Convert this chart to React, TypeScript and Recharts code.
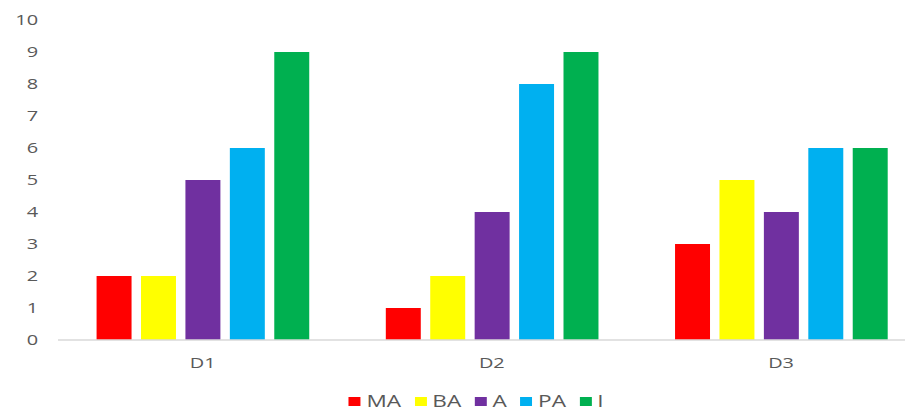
import { Bar, BarChart, Legend, XAxis, YAxis } from "recharts";

const categories = ["D1", "D2", "D3"];
const seriesNames = ["MA", "BA", "A", "PA", "I"];
const maValues = [2, 1, 3];
const baValues = [2, 2, 5];
const aValues = [5, 4, 4];
const paValues = [6, 8, 6];
const iValues = [9, 9, 6];
const yTicks = [0, 1, 2, 3, 4, 5, 6, 7, 8, 9, 10];

const COLORS: Record<string, string> = {
  MA: "#ff0000",
  BA: "#ffff00",
  A: "#7030a0",
  PA: "#00b0f0",
  I: "#00b050",
};

const series = [maValues, baValues, aValues, paValues, iValues];
const data = categories.map((name, i) => {
  const row: Record<string, number | string> = { name };
  seriesNames.forEach((s, k) => (row[s] = series[k][i]));
  return row;
});

const FONT = "'Open Sans', 'Liberation Sans', sans-serif";
const TEXT = "#595959";
// the whole chart is drawn narrow and stretched sideways
const SX = 1.33;

function LegendRow() {
  return (
    <div style={{ display: "flex", gap: 10, fontFamily: FONT, fontSize: 17, color: TEXT, lineHeight: "20px" }}>
      {seriesNames.map((s) => (
        <span key={s} style={{ display: "flex", alignItems: "center", gap: 4.5 }}>
          <span style={{ width: 9, height: 9, background: COLORS[s], display: "inline-block" }} />
          {s}
        </span>
      ))}
    </div>
  );
}

export default function App() {
  return (
    <div style={{ width: 905, height: 410, overflow: "hidden" }}>
      <div style={{ width: 690, transform: `scaleX(${SX})`, transformOrigin: "0 0" }}>
        <BarChart
          width={690}
          height={410}
          data={data}
          margin={{ top: 12, right: 0, bottom: 28, left: 0 }}
          barSize={26.3}
          barGap={7.1}
        >
          <YAxis
            domain={[0, 10]}
            ticks={yTicks}
            width={37.6}
            axisLine={false}
            tickLine={false}
            tickSize={0}
            tickMargin={15}
            tick={{ fontSize: 15, fill: TEXT, fontFamily: FONT }}
          />
          <XAxis
            dataKey="name"
            height={30}
            axisLine={{ stroke: "#d9d9d9", strokeWidth: 1.5 }}
            tickLine={false}
            tickSize={0}
            tickMargin={17}
            tick={{ fontSize: 15, fill: TEXT, fontFamily: FONT }}
          />
          <Legend
            content={() => <LegendRow />}
            wrapperStyle={{ top: 383, left: 256, width: "auto", height: 20 }}
          />
          {seriesNames.map((s) => (
            <Bar key={s} dataKey={s} fill={COLORS[s]} isAnimationActive={false} />
          ))}
        </BarChart>
      </div>
    </div>
  );
}
